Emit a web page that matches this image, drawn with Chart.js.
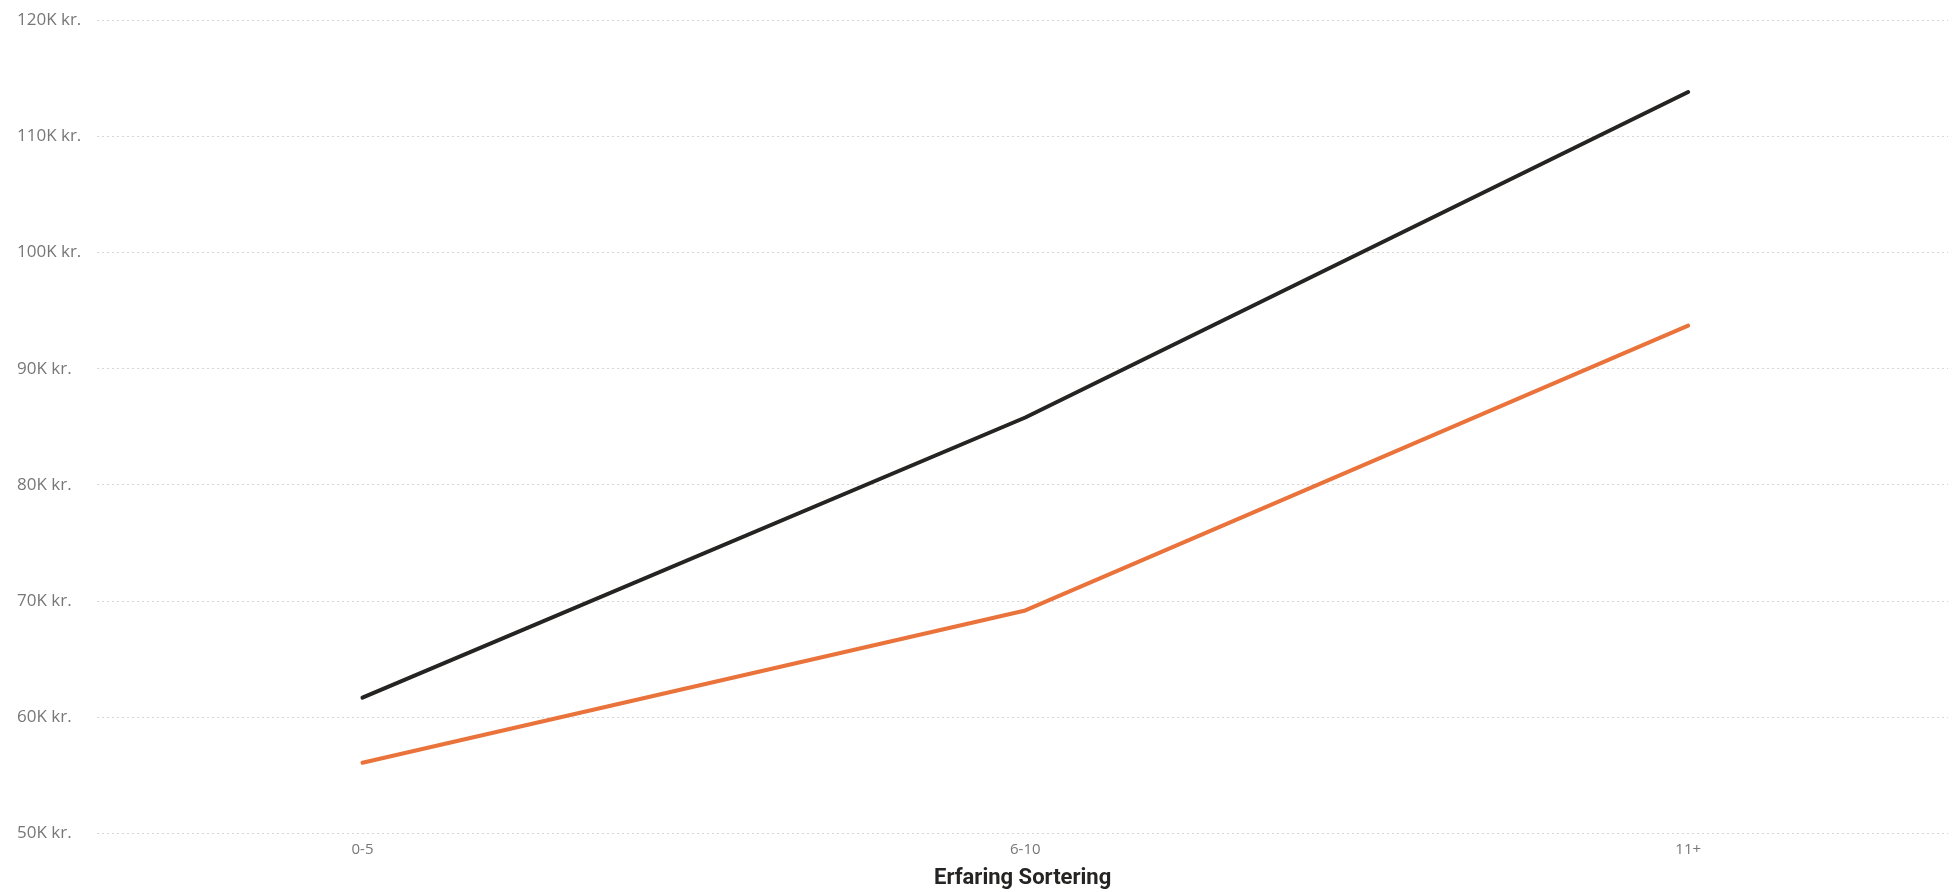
<!DOCTYPE html>
<html>
<head>
<meta charset="utf-8">
<script src="https://cdn.jsdelivr.net/npm/chart.js@4.4.1/dist/chart.umd.min.js"></script>
<style>
  html, body { margin: 0; padding: 0; background: #ffffff; }
  #wrap { position: relative; width: 1952px; height: 892px; }
</style>
</head>
<body>
<div id="wrap"><canvas id="c" width="1952" height="892"></canvas></div>
<script>
const categories = ["0-5", "6-10", "11+"];
const seriesDark = [61700, 85800, 113800];
const seriesOrange = [56100, 69200, 93700];
const yTicks = [50000, 60000, 70000, 80000, 90000, 100000, 110000, 120000];
const axisTitle = "Erfaring Sortering";

function toPoints(arr) { return arr.map((v, i) => ({ x: i, y: v })); }

new Chart(document.getElementById('c'), {
  type: 'line',
  data: {
    datasets: [
      { label: 'A', data: toPoints(seriesDark), borderColor: '#252423', borderWidth: 4, pointRadius: 0, tension: 0, borderCapStyle: 'round', borderJoinStyle: 'round' },
      { label: 'B', data: toPoints(seriesOrange), borderColor: '#E9733A', borderWidth: 4, pointRadius: 0, tension: 0, borderCapStyle: 'round', borderJoinStyle: 'round' }
    ]
  },
  options: {
    responsive: false,
    animation: false,
    devicePixelRatio: 1,
    layout: { padding: { left: 17, top: 20, right: 4, bottom: 0 } },
    plugins: { legend: { display: false }, tooltip: { enabled: false } },
    scales: {
      x: {
        type: 'linear',
        min: -0.40,
        max: 2.392,
        afterBuildTicks: (s) => { s.ticks = categories.map((_, i) => ({ value: i })); },
        grid: { display: false, drawTicks: false },
        border: { display: false },
        ticks: {
          callback: (v) => categories[v],
          color: '#777777',
          font: { family: 'Open Sans', size: 15 },
          padding: 7,
          maxRotation: 0
        },
        title: {
          display: true,
          text: axisTitle,
          color: '#252423',
          font: { family: 'Roboto', size: 22, weight: 'bold' },
          padding: { top: 0, bottom: 0 }
        }
      },
      y: {
        min: 50000,
        max: 120000,
        afterBuildTicks: (s) => { s.ticks = yTicks.map(v => ({ value: v })); },
        grid: { color: '#d6d6d6', lineWidth: 1, drawTicks: false },
        border: { display: false, dash: [2, 3] },
        ticks: {
          callback: (v) => (v / 1000) + 'K kr.',
          color: '#777777',
          font: { family: 'Open Sans', size: 17 },
          padding: 8,
          crossAlign: 'far'
        }
      }
    }
  }
});
</script>
</body>
</html>
